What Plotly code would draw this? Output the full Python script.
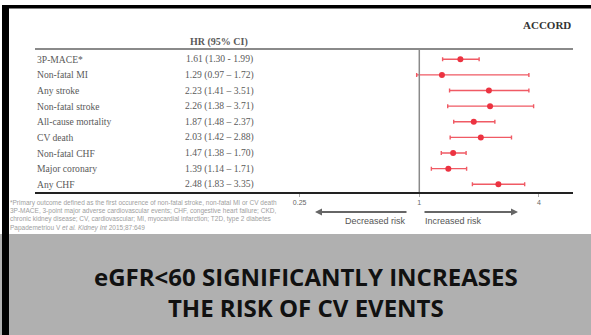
import math
import plotly.graph_objects as go

W, H = 591, 335

# ---- data ----
outcomes = ["3P-MACE*", "Non-fatal MI", "Any stroke", "Non-fatal stroke",
            "All-cause mortality", "CV death", "Non-fatal CHF",
            "Major coronary", "Any CHF"]
hr_text = ["1.61 (1.30 - 1.99)", "1.29 (0.97 – 1.72)", "2.23 (1.41 – 3.51)",
           "2.26 (1.38 – 3.71)", "1.87 (1.48 – 2.37)", "2.03 (1.42 – 2.88)",
           "1.47 (1.38 – 1.70)", "1.39 (1.14 – 1.71)", "2.48 (1.83 – 3.35)"]
hr = [1.61, 1.30, 2.24, 2.27, 1.88, 2.04, 1.48, 1.40, 2.50]
ci_low = [1.31, 0.97, 1.42, 1.39, 1.49, 1.43, 1.29, 1.15, 1.85]
ci_high = [2.00, 3.56, 3.56, 3.76, 2.40, 2.91, 1.72, 1.73, 3.39]
tick_vals = [0.25, 1, 4]
tick_text = ["0.25", "1", "4"]

footnote = [
    "*Primary outcome defined as the first occurence of non-fatal stroke, non-fatal MI or CV death",
    "3P-MACE, 3-point major adverse cardiovascular events; CHF, congestive heart failure; CKD,",
    "chronic kidney disease; CV, cardiovascular; MI, myocardial infarction; T2D, type 2 diabetes",
    "Papademetriou V <i>et al. Kidney Int</i> 2015;87:649",
]
title_lines = ["eGFR<60 SIGNIFICANTLY INCREASES", "THE RISK OF CV EVENTS"]


def px(x):
    return x / W


def py(y):
    return 1 - y / H


# geometry of the forest axis (pixels)
x_left, x_right = 35, 573
x_one, x_four, x_q = 419.3, 539.3, 300.0
ppd = (x_four - x_q) / math.log10(16)
xr = [-(x_one - x_left) / ppd, (x_right - x_one) / ppd]

y_top, y_bot = 49, 192
row0, rowstep = 59.3, 15.62
yr = [8 + (y_bot - (row0 + 8 * rowstep)) / rowstep, -(row0 - y_top) / rowstep]

rows = list(range(len(outcomes)))
red = "#ec3341"
bar_red = "#f05a64"

fig = go.Figure()
fig.add_trace(go.Scatter(
    x=hr, y=rows, mode="markers",
    marker=dict(color=red, size=6),
    error_x=dict(type="data", symmetric=False,
                 array=[h - m for h, m in zip(ci_high, hr)],
                 arrayminus=[m - l for m, l in zip(hr, ci_low)],
                 color=bar_red, thickness=1.4, width=2),
    hoverinfo="skip", showlegend=False,
))

serif = "Liberation Serif"
sans = "Liberation Sans"
txt_col = "#5a5a5a"

ann = []
for i, (o, t) in enumerate(zip(outcomes, hr_text)):
    ann.append(dict(x=px(x_left), y=i, xref="paper", yref="y", text=o,
                    showarrow=False, xanchor="left", yanchor="middle",
                    font=dict(family=serif, size=9.6, color=txt_col)))
    ann.append(dict(x=px(219), y=i, xref="paper", yref="y", text=t,
                    showarrow=False, xanchor="center", yanchor="middle",
                    font=dict(family=serif, size=9.6, color=txt_col)))

ann.append(dict(x=px(219), y=py(42), xref="paper", yref="paper",
                text="<b>HR (95% CI)</b>", showarrow=False,
                xanchor="center", yanchor="middle",
                font=dict(family=serif, size=10, color=txt_col)))
ann.append(dict(x=px(573), y=py(25), xref="paper", yref="paper",
                text="<b>ACCORD</b>", showarrow=False,
                xanchor="right", yanchor="middle",
                font=dict(family=serif, size=11, color="#333")))

# risk arrows
ann.append(dict(x=px(315), y=py(212), ax=408 - 315, ay=0,
                xref="paper", yref="paper", axref="pixel", ayref="pixel",
                text="", showarrow=True, arrowhead=2, arrowsize=0.7,
                arrowwidth=2, arrowcolor="#666"))
ann.append(dict(x=px(518), y=py(212), ax=423 - 518, ay=0,
                xref="paper", yref="paper", axref="pixel", ayref="pixel",
                text="", showarrow=True, arrowhead=2, arrowsize=0.7,
                arrowwidth=2, arrowcolor="#666"))
ann.append(dict(x=px(408), y=py(221), xref="paper", yref="paper",
                text="Decreased risk", showarrow=False,
                xanchor="right", yanchor="middle",
                font=dict(family=sans, size=9, color="#555")))
ann.append(dict(x=px(423), y=py(221), xref="paper", yref="paper",
                text="Increased risk", showarrow=False,
                xanchor="left", yanchor="middle",
                font=dict(family=sans, size=9, color="#555")))

# footnote
for k, line in enumerate(footnote):
    ann.append(dict(x=px(8), y=py(203 + k * 8.2), xref="paper", yref="paper",
                    text=line, showarrow=False, xanchor="left",
                    yanchor="middle",
                    font=dict(family=sans, size=6.5, color="#a0a0a0")))

# banner title (single two-line text)
ann.append(dict(x=px(306), y=py(292), xref="paper", yref="paper",
                text="<br>".join("<b>" + s + "</b>" for s in title_lines),
                showarrow=False, xanchor="center", yanchor="middle",
                align="center",
                font=dict(family="Open Sans", size=24, color="#111")))

shapes = [
    # banner
    dict(type="rect", xref="paper", yref="paper", x0=0, x1=1,
         y0=0, y1=py(234), fillcolor="#b0b0b0", line=dict(width=0),
         layer="below"),
    # left black bar
    dict(type="rect", xref="paper", yref="paper", x0=px(2), x1=px(9),
         y0=0, y1=py(5), fillcolor="#000", line=dict(width=0)),
    # top black line
    dict(type="rect", xref="paper", yref="paper", x0=px(2), x1=1,
         y0=py(8.5), y1=py(5), fillcolor="#000", line=dict(width=0)),
    # header gray line
    dict(type="line", xref="paper", yref="paper", x0=px(x_left), x1=px(x_right),
         y0=py(y_top), y1=py(y_top), line=dict(color="#8a8a8a", width=2)),
    # vertical line at HR=1
    dict(type="line", xref="x", yref="paper", x0=1, x1=1,
         y0=py(y_top), y1=py(y_bot), line=dict(color="#8a8a8a", width=1.5)),
]

fig.update_layout(
    width=W, height=H, margin=dict(l=0, r=0, t=0, b=0),
    paper_bgcolor="white", plot_bgcolor="rgba(0,0,0,0)",
    xaxis=dict(type="log", range=xr, domain=[px(x_left), px(x_right)],
               tickvals=tick_vals, ticktext=tick_text, showgrid=False,
               zeroline=False, showline=True, linecolor="#222", linewidth=1.5,
               ticks="outside", ticklen=3, tickcolor="#aaa",
               tickfont=dict(family=sans, size=7, color="#666"),
               fixedrange=True),
    yaxis=dict(range=yr, domain=[py(y_bot), py(y_top)], showgrid=False,
               zeroline=False, showticklabels=False, showline=False,
               fixedrange=True),
    annotations=ann, shapes=shapes,
)

fig.write_html("out.html")
